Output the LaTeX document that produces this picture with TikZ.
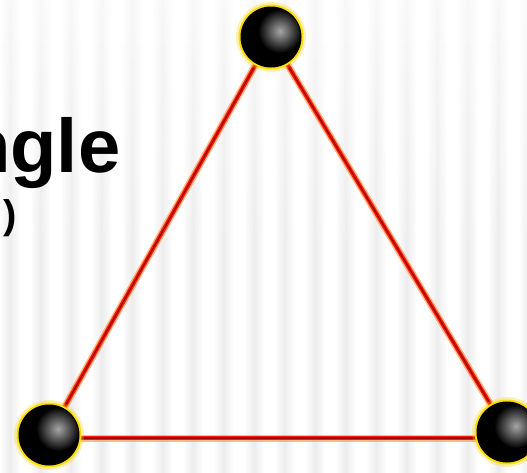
\documentclass[tikz,border=0pt]{standalone}
\usepackage{fontspec}
\newfontfamily\headfont{Liberation Sans}
\usetikzlibrary{calc, fadings}

\begin{document}
\begin{tikzpicture}[
    x=1pt, y=-1pt,
    line join=round,
    line cap=round,
    font=\headfont
]

  % ==================== ПАРАМЕТРИ ====================
  \def\rball{30.5}   % Радіус кульки
  \def\wline{4}      % Товщина ребра

  \coordinate (top)   at (271,37);   % Верхня вершина
  \coordinate (left)  at (49,435);   % Ліва вершина
  \coordinate (right) at (507,432);  % Права вершина

  \useasboundingbox (0,0) rectangle (527,472);

  % ==================== 1. ФОН (СМУГИ) ====================
  \fill[white] (0,0) rectangle (527,472);
  \foreach \x in {10,40.5,...,540}{
      \shade[left color=white, right color=white, middle color=gray!15]
        (\x-10,0) rectangle (\x+10,472);
  }
  % Світліша верхня частина
  \fill[white, opacity=0.6, path fading=south] (0,0) rectangle (527,260);

  % ==================== 2. ТЕКСТ ====================
  \node (title) [font=\headfont\bfseries\fontsize{76}{80}\selectfont, anchor=base east, inner sep=0]
    at (120.5,172) {ngle};
  \node (note) [font=\headfont\bfseries\fontsize{40}{44}\selectfont, anchor=base east, inner sep=0]
    at (17,228) {)};

  % ==================== 3. РЕБРА ====================
  \foreach \a/\b/\sa/\sb in {left/top/0/0, top/right/0/0, left/right/3/6}{
      \draw[orange!85!red, line width=\wline+3, opacity=0.45] ($(\a)+(0,\sa)$) -- ($(\b)+(0,\sb)$);
      \draw[red!80!orange, line width=\wline] ($(\a)+(0,\sa)$) -- ($(\b)+(0,\sb)$);
      \draw[red!60!black, line width=1.2] ($(\a)+(0,\sa)$) -- ($(\b)+(0,\sb)$);
  }

  % ==================== 4. КУЛЬКИ ====================
  \foreach \p in {top, left, right}{
      % Жовте сяйво
      \fill[yellow!70!orange, opacity=0.3] (\p) circle (\rball+4.5);
      \fill[yellow!80!orange] (\p) circle (\rball+2);
      % Чорна куля з відблиском
      \fill[black] (\p) circle (\rball);
      \begin{scope}
        \clip (\p) circle (\rball-1);
        \shade[inner color=gray!70, outer color=black] ($(\p)+(9,-6)$) circle (22);
      \end{scope}
  }

\end{tikzpicture}
\end{document}
